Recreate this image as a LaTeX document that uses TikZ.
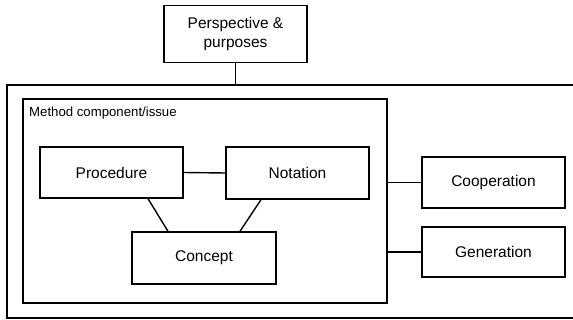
\documentclass[tikz,border=0pt]{standalone}
\usepackage{fontspec}
\setmainfont{Liberation Sans}
\usetikzlibrary{positioning}
\begin{document}
\begin{tikzpicture}[x=1pt,y=-1pt,
  box/.style={draw, line width=1.4pt, rectangle, inner sep=0pt,
    font=\fontsize{15.5}{18.5}\selectfont, align=center},
  frame/.style={draw, line width=1.4pt, rectangle, inner sep=0pt},
  link/.style={line width=1.4pt}]
  \useasboundingbox (0,0) rectangle (573,320);

  % frames (the outer one runs past the right margin of the page)
  \node[frame, minimum width=569pt, minimum height=233pt] (outer) at (291.5,201.5) {};
  \node[frame, minimum width=364pt, minimum height=204pt] (inner) at (205,201) {};
  \node[anchor=west, inner sep=0pt, font=\fontsize{13.2}{15}\selectfont] (label) at (29,113) {Method component/issue};

  % boxes
  \node[box, minimum width=143pt, minimum height=57pt] (persp) at (235.5,34) {Perspective \&\\purposes};
  \node[box, minimum width=143pt, minimum height=51pt] (proc) at (111.5,172.5) {Procedure};
  \node[box, minimum width=143pt, minimum height=52pt] (nota) at (297.5,173) {Notation};
  \node[box, minimum width=144pt, minimum height=52pt] (conc) at (204,258) {Concept};
  \node[box, minimum width=143pt, minimum height=51pt] (coop) at (493.5,182.5) {Cooperation};
  \node[box, minimum width=143pt, minimum height=50pt] (gen) at (493.5,252) {Generation};

  % connectors
  \draw[link] (persp.south) -- (persp.south |- outer.north);
  \draw[link] (proc.east) -- (nota.west);
  \draw[link] ([xshift=36.5pt]proc.south) -- ([xshift=-36pt]conc.north);
  \draw[link] ([xshift=-36.5pt]nota.south) -- ([xshift=36pt]conc.north);
  \draw[link] (coop.west) -- (coop.west -| inner.east);
  \draw[link] (gen.west) -- (gen.west -| inner.east);
\end{tikzpicture}
\end{document}
